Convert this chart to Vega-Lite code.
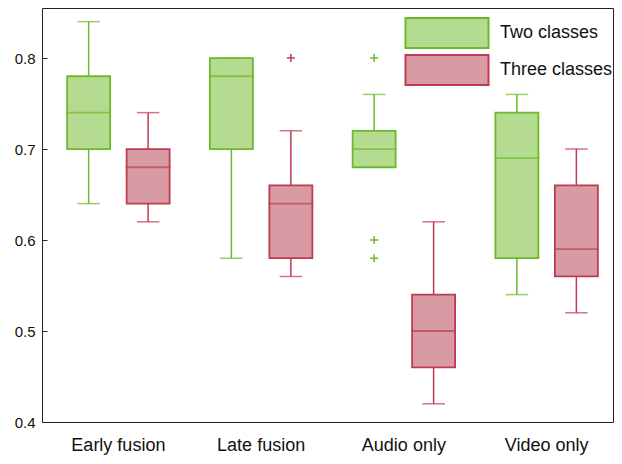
{
  "$schema": "https://vega.github.io/schema/vega-lite/v6.json",
  "width": 571,
  "height": 414,
  "autosize": "none",
  "padding": {"left": 42, "top": 8, "right": 9, "bottom": 42},
  "config": {
    "font": "Liberation Sans",
    "view": {"stroke": "#222222", "strokeWidth": 1},
    "axis": {"grid": false, "domain": false, "labelColor": "#111111", "title": null}
  },
  "data": {
    "values": [
      {"method": "Early fusion", "classes": "Two classes", "lo": 0.64, "q1": 0.70, "med": 0.74, "q3": 0.78, "hi": 0.84},
      {"method": "Early fusion", "classes": "Three classes", "lo": 0.62, "q1": 0.64, "med": 0.68, "q3": 0.70, "hi": 0.74},
      {"method": "Late fusion", "classes": "Two classes", "lo": 0.58, "q1": 0.70, "med": 0.78, "q3": 0.80, "hi": 0.80},
      {"method": "Late fusion", "classes": "Three classes", "lo": 0.56, "q1": 0.58, "med": 0.64, "q3": 0.66, "hi": 0.72},
      {"method": "Audio only", "classes": "Two classes", "lo": 0.68, "q1": 0.68, "med": 0.70, "q3": 0.72, "hi": 0.76},
      {"method": "Audio only", "classes": "Three classes", "lo": 0.42, "q1": 0.46, "med": 0.50, "q3": 0.54, "hi": 0.62},
      {"method": "Video only", "classes": "Two classes", "lo": 0.54, "q1": 0.58, "med": 0.69, "q3": 0.74, "hi": 0.76},
      {"method": "Video only", "classes": "Three classes", "lo": 0.52, "q1": 0.56, "med": 0.59, "q3": 0.66, "hi": 0.70}
    ]
  },
  "encoding": {
    "x": {
      "field": "method",
      "type": "nominal",
      "sort": ["Early fusion", "Late fusion", "Audio only", "Video only"],
      "scale": {"range": [5, 576], "paddingInner": 0, "paddingOuter": 0},
      "axis": {"labelAngle": 0, "labelFontSize": 18, "ticks": false, "labelPadding": 14}
    },
    "xOffset": {
      "field": "classes",
      "type": "nominal",
      "sort": ["Two classes", "Three classes"],
      "scale": {"paddingInner": 0, "paddingOuter": 0.2}
    }
  },
  "layer": [
    {
      "mark": {"type": "rule", "strokeWidth": 1.5},
      "encoding": {
        "y": {
          "field": "lo",
          "type": "quantitative",
          "scale": {"domain": [0.4, 0.855], "nice": false, "zero": false},
          "axis": {"values": [0.4, 0.5, 0.6, 0.7, 0.8], "format": ".1f", "labelFontSize": 15, "offset": -5, "tickSize": 5, "tickColor": "#222222", "tickWidth": 1, "labelPadding": 7}
        },
        "y2": {"field": "hi"},
        "stroke": {
          "field": "classes",
          "type": "nominal",
          "scale": {"domain": ["Two classes", "Three classes"], "range": ["#6cba2c", "#c03a51"]}
        }
      }
    },
    {
      "mark": {"type": "tick", "size": 21, "thickness": 0.01, "filled": false, "strokeWidth": 1.5},
      "encoding": {
        "y": {"field": "lo", "type": "quantitative"},
        "stroke": {"field": "classes", "type": "nominal"}
      }
    },
    {
      "mark": {"type": "tick", "size": 21, "thickness": 0.01, "filled": false, "strokeWidth": 1.5},
      "encoding": {
        "y": {"field": "hi", "type": "quantitative"},
        "stroke": {"field": "classes", "type": "nominal"}
      }
    },
    {
      "mark": {"type": "bar", "size": 43, "strokeWidth": 1.8},
      "encoding": {
        "y": {"field": "q1", "type": "quantitative"},
        "y2": {"field": "q3"},
        "fill": {
          "field": "classes",
          "type": "nominal",
          "scale": {"domain": ["Two classes", "Three classes"], "range": ["#b5db90", "#d99ba3"]},
          "legend": {
            "orient": "none",
            "legendX": 389,
            "legendY": 9,
            "padding": 0,
            "title": null,
            "symbolType": "M-2.767,-1H2.767V1H-2.767Z",
            "symbolSize": 900,
            "symbolStrokeWidth": 2,
            "symbolOpacity": 1,
            "labelFontSize": 18,
            "labelColor": "#111111",
            "labelOffset": 37,
            "rowPadding": -1,
            "encode": {
              "symbols": {"update": {"opacity": {"value": 1}, "fillOpacity": {"value": 1}, "strokeOpacity": {"value": 1}}}
            }
          }
        },
        "stroke": {"field": "classes", "type": "nominal"}
      }
    },
    {
      "mark": {"type": "tick", "size": 43, "thickness": 0.01, "filled": false, "strokeWidth": 1.8},
      "encoding": {
        "y": {"field": "med", "type": "quantitative"},
        "stroke": {"field": "classes", "type": "nominal"}
      }
    },
    {
      "data": {
        "values": [
          {"method": "Late fusion", "classes": "Three classes", "value": 0.80},
          {"method": "Audio only", "classes": "Two classes", "value": 0.80},
          {"method": "Audio only", "classes": "Two classes", "value": 0.60},
          {"method": "Audio only", "classes": "Two classes", "value": 0.58}
        ]
      },
      "mark": {"type": "point", "shape": "M-1,0H1M0,-1V1", "filled": false, "size": 64, "strokeWidth": 1.5, "opacity": 1},
      "encoding": {
        "y": {"field": "value", "type": "quantitative"},
        "stroke": {"field": "classes", "type": "nominal"}
      }
    }
  ]
}
